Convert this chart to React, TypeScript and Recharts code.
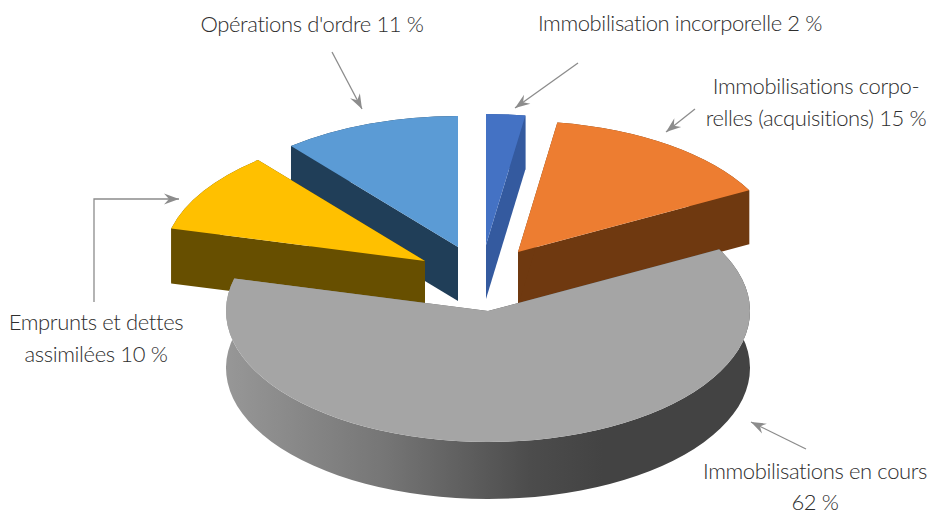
import { Pie, PieChart } from "recharts";

// ordre de dessin : le gris passe par-dessus les autres parts
const names = [
    "Immobilisations corporelles",
    "Immobilisation incorporelle",
    "Opérations d'ordre",
    "Emprunts et dettes assimilées",
    "Immobilisations en cours",
];
// (les angles des parts, les étiquettes arrondissent)
const values = [14.8, 2.4, 11, 10, 61.8];
const topColors = ["#ed7d31", "#4472c4", "#5b9bd5", "#ffc000", "#a5a5a5"];
const wallColors = ["#6f3910", "#345a9f", "#203e58", "#674f00", "url(#greyWall)"];

const labelLines = [
    ["Immobilisations corpo-", "relles (acquisitions) 15 %"],
    ["Immobilisation incorporelle 2 %"],
    ["Opérations d'ordre 11 %"],
    ["Emprunts et dettes", "assimilées 10 %"],
    ["Immobilisations en cours", "62 %"],
];

const tableData = names.map((name, i) => ({ name, value: values[i], fill: topColors[i] }));

// mise en page, séparée des données
const CX = 488;
const CY = 311;
const RADIUS = 262;
const TILT = 0.5;
const sliceOffsets = [[30, -59], [-2, -66], [-30, -64], [-63, -50], [0, 0]];
const sliceDepths = [54, 54, 54, 55, 57];
const labelSpots = [
    { x: 816, y: [94, 126] },
    { x: 680, y: [31] },
    { x: 312, y: [32] },
    { x: 96, y: [330, 362] },
    { x: 815, y: [479, 510] },
];
const calloutLines = [
    [[695, 109], [666, 132]],
    [[578, 63], [515, 108]],
    [[332, 52], [362, 109]],
    [[94, 302], [94, 199], [179, 199]],
    [[806, 449], [751, 422]],
];

const ARROW = "#8c8c8c";
const TEXT = "#2e2e2e";

function sliceIndex(props: any) {
    return names.indexOf(props.name ?? props.payload?.name);
}

// part en perspective : mur extrudé puis dessus aplati
const Slice3D = (props: any) => {
    const i = sliceIndex(props);
    const { cx, cy, outerRadius: r, startAngle, endAngle } = props;
    const [ox, oy] = sliceOffsets[i];
    const depth = sliceDepths[i];
    const ax = cx + ox;
    const ay = cy + oy;
    const ry = r * TILT;
    const at = (deg: number, dy = 0) => {
        const a = (deg * Math.PI) / 180;
        return `${ax + r * Math.cos(a)} ${ay - ry * Math.sin(a) + dy}`;
    };
    const large = Math.abs(endAngle - startAngle) > 180 ? 1 : 0;
    const top = `M${ax} ${ay} L${at(startAngle)} A${r} ${ry} 0 ${large} 0 ${at(endAngle)} Z`;
    const rim =
        `M${at(startAngle)} A${r} ${ry} 0 ${large} 0 ${at(endAngle)} ` +
        `L${at(endAngle, depth)} A${r} ${ry} 0 ${large} 1 ${at(startAngle, depth)} Z`;
    const sideA = `M${ax} ${ay} L${at(startAngle)} L${at(startAngle, depth)} L${ax} ${ay + depth} Z`;
    const sideB = `M${ax} ${ay} L${at(endAngle)} L${at(endAngle, depth)} L${ax} ${ay + depth} Z`;
    const wall = wallColors[i];
    return (
        <g>
            <defs>
                <linearGradient id="greyWall" gradientUnits="userSpaceOnUse" x1={226} y1={0} x2={750} y2={0}>
                    <stop offset="0%" stopColor="#979797" />
                    <stop offset="30%" stopColor="#767676" />
                    <stop offset="58%" stopColor="#4c4c4c" />
                    <stop offset="72%" stopColor="#434343" />
                    <stop offset="100%" stopColor="#434343" />
                </linearGradient>
            </defs>
            <path d={rim} fill={wall} />
            <path d={sideA} fill={wall} />
            <path d={sideB} fill={wall} />
            <path d={top} fill={props.fill} />
        </g>
    );
};

// étiquette et flèche de chaque part
const Callout = (props: any) => {
    const i = sliceIndex(props);
    const spot = labelSpots[i];
    const pts = calloutLines[i];
    const [x0, y0] = pts[pts.length - 2];
    const [x1, y1] = pts[pts.length - 1];
    const len = Math.hypot(x1 - x0, y1 - y0);
    const ux = (x1 - x0) / len;
    const uy = (y1 - y0) / len;
    const head = [
        [x1, y1],
        [x1 - 15 * ux + 5.5 * uy, y1 - 15 * uy - 5.5 * ux],
        [x1 - 10 * ux, y1 - 10 * uy],
        [x1 - 15 * ux - 5.5 * uy, y1 - 15 * uy + 5.5 * ux],
    ];
    return (
        <g>
            <polyline
                points={pts.map((p) => p.join(",")).join(" ")}
                fill="none"
                stroke={ARROW}
                strokeWidth={1.3}
            />
            <polygon points={head.map((p) => p.join(",")).join(" ")} fill={ARROW} />
            {labelLines[i].map((line, n) => (
                <text
                    key={line}
                    x={spot.x}
                    y={spot.y[n]}
                    textAnchor="middle"
                    fill={TEXT}
                    fontFamily="Lato"
                    fontWeight={300}
                    fontSize={22}
                    letterSpacing={-0.38}
                >
                    {line}
                </text>
            ))}
        </g>
    );
};

const App = () => {
    return (
        <div style={{ position: "absolute", left: 0, top: 0, width: 928, height: 514, background: "#fff" }}>
            <PieChart width={928} height={514} margin={{ top: 0, right: 0, bottom: 0, left: 0 }}>
                <Pie
                    data={tableData}
                    dataKey="value"
                    nameKey="name"
                    cx={CX}
                    cy={CY}
                    innerRadius={0}
                    outerRadius={RADIUS}
                    startAngle={28.08}
                    endAngle={388.08}
                    stroke="none"
                    shape={Slice3D}
                    label={Callout}
                    labelLine={false}
                    isAnimationActive={false}
                />
            </PieChart>
        </div>
    );
};

export default App;
